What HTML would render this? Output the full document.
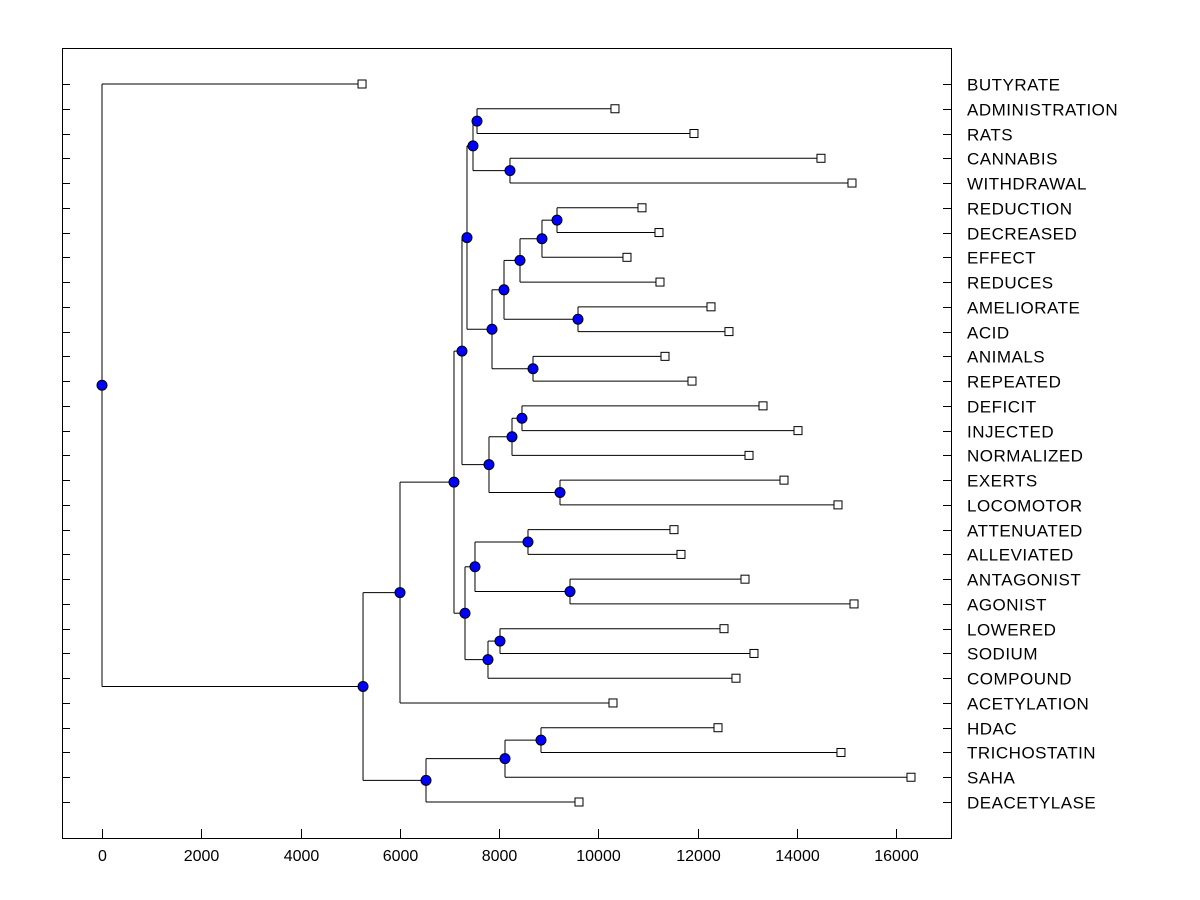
<!DOCTYPE html>
<html><head><meta charset="utf-8"><style>
body{margin:0;background:#fff;}
svg{display:block;font-family:"Liberation Sans",Arial,sans-serif;}
</style></head><body>
<svg id="chart" width="1200" height="900" xmlns="http://www.w3.org/2000/svg"></svg>
<script>
const labels=["BUTYRATE","ADMINISTRATION","RATS","CANNABIS","WITHDRAWAL","REDUCTION","DECREASED","EFFECT","REDUCES","AMELIORATE","ACID","ANIMALS","REPEATED","DEFICIT","INJECTED","NORMALIZED","EXERTS","LOCOMOTOR","ATTENUATED","ALLEVIATED","ANTAGONIST","AGONIST","LOWERED","SODIUM","COMPOUND","ACETYLATION","HDAC","TRICHOSTATIN","SAHA","DEACETYLASE"];
const leafValues=[5240,10337,11929,14488,15113,10881,11224,10579,11244,12272,12634,11345,11889,13320,14025,13038,13743,14831,11526,11667,12957,15154,12534,13138,12775,10297,12413,14891,16302,9612];
// tree: node -> [childA, childB, merge height]; numeric strings are leaf indices
const nodes={
 root:["0","A",0],
 A:["B","C",5260],
 B:["D","25",6005],
 C:["E","29",6529],
 E:["F","28",8121],
 F:["26","27",8846],
 D:["G","H",7093],
 G:["I","J",7254],
 I:["K","L",7355],
 K:["M","N",7476],
 M:["1","2",7557],
 N:["3","4",8221],
 L:["O","P",7859],
 O:["Q","R",8101],
 Q:["S","8",8423],
 S:["T","7",8866],
 T:["5","6",9169],
 R:["9","10",9592],
 P:["11","12",8685],
 J:["U","V",7798],
 U:["W","15",8262],
 W:["13","14",8463],
 V:["16","17",9229],
 H:["X","Y",7315],
 X:["Z","AA",7516],
 Z:["18","19",8584],
 AA:["20","21",9431],
 Y:["AB","24",7778],
 AB:["22","23",8020]
};
const xTicks=[0,2000,4000,6000,8000,10000,12000,14000,16000];
const X0=102, XS=(896-102)/16000;
const xs=v=>X0+v*XS;
const ys=i=>84+i*(802-84)/29;
const svg=document.getElementById('chart');
const NS="http://www.w3.org/2000/svg";
function mk(t,a,p){const e=document.createElementNS(NS,t);for(const k in a)e.setAttribute(k,a[k]);(p||svg).appendChild(e);return e;}
const frame=mk('rect',{x:62.5,y:48.5,width:889,height:790,fill:'none',stroke:'#000','stroke-width':1});


labels.forEach((l,i)=>{
 const y=Math.round(ys(i))+0.5;
 const t1=mk('line',{x1:62,x2:70,y1:y,y2:y,stroke:'#000'});
 
 
 const t2=mk('line',{x1:943,x2:951,y1:y,y2:y,stroke:'#000'});
 
 
 const tx=mk('text',{x:967,y:y+6,'font-size':17,'letter-spacing':0.5,fill:'#000'});tx.textContent=l;
 
 
});
xTicks.forEach(v=>{
 const x=Math.round(xs(v))+0.5;
 const tk=mk('line',{x1:x,x2:x,y1:829,y2:838,stroke:'#000'});
 
 
 const tx=mk('text',{x:x,y:861,'font-size':16,'text-anchor':'middle',fill:'#000'});tx.textContent=v;
 
 
});
const lineG=mk('g',{stroke:'#000','stroke-width':1,fill:'none'});


const nodeMarks=[],leafMarks=[];
function pos(id){
 if(!(id in nodes)){const i=+id;return {x:xs(leafValues[i]),y:ys(i),leaf:i};}
 const [a,b,h]=nodes[id];const pa=pos(a),pb=pos(b);
 const x=xs(h),y=(pa.y+pb.y)/2;
 mk('line',{x1:x,x2:x,y1:pa.y,y2:pb.y},lineG);
 mk('line',{x1:x,x2:pa.x,y1:pa.y,y2:pa.y},lineG);
 mk('line',{x1:x,x2:pb.x,y1:pb.y,y2:pb.y},lineG);
 [pa,pb].forEach(p=>{if(p.leaf!==undefined)leafMarks.push(p);});
 nodeMarks.push({x,y});
 return {x,y};
}
pos('root');
leafMarks.forEach(p=>{
 const r=mk('rect',{x:p.x-4,y:p.y-4,width:8,height:8,fill:'#fff',stroke:'#000'});
 
 
});
nodeMarks.forEach(p=>{
 const c=mk('circle',{cx:p.x,cy:p.y,r:5,fill:'#0000ff',stroke:'#000'});
 
 
});
</script>
</body></html>
